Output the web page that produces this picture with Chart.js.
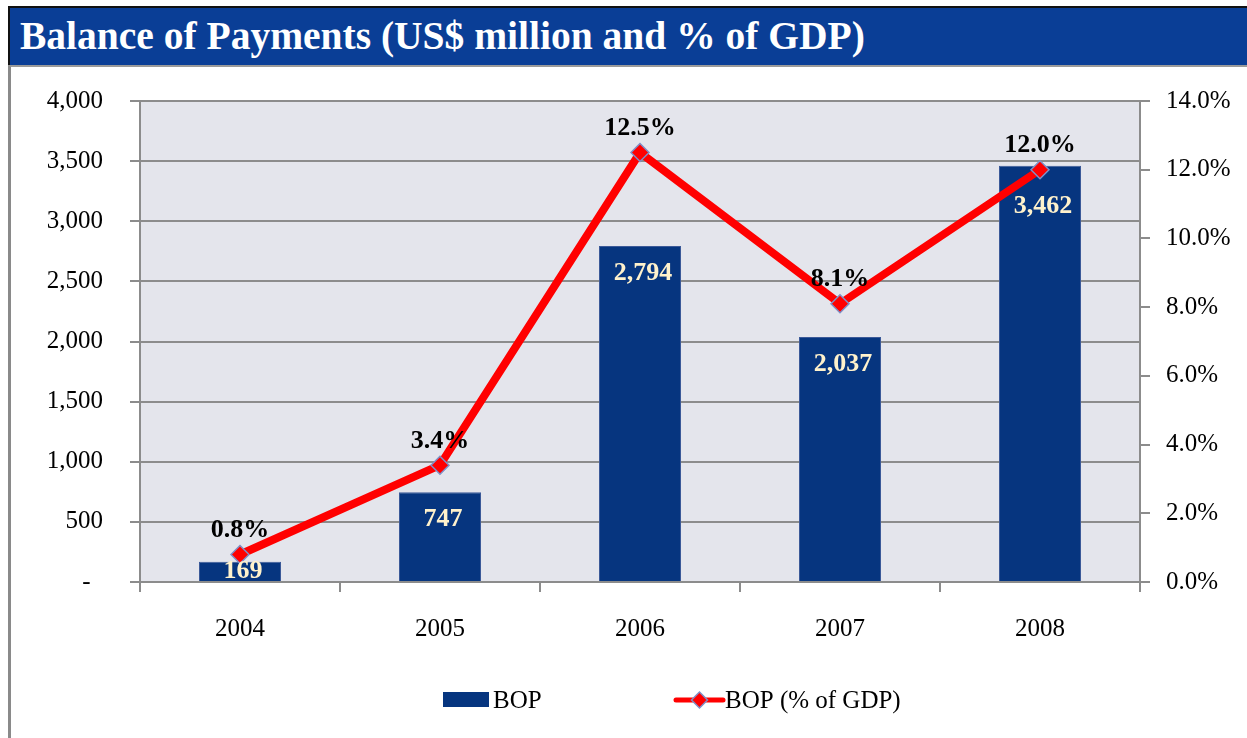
<!DOCTYPE html>
<html>
<head>
<meta charset="utf-8">
<script src="https://cdn.jsdelivr.net/npm/chart.js@4.4.0/dist/chart.umd.min.js"></script>
<style>
    body { margin: 0; background: #ffffff; width: 1247px; height: 738px; overflow: hidden; position: relative; }
    #banner {
        position: absolute; left: 8px; top: 6px; width: 1245px; height: 57px;
        background: #0a3e96; border: 2px solid #111111; box-sizing: content-box;
        color: #ffffff; font-family: "Liberation Serif", serif; font-weight: bold; font-size: 39.5px;
        line-height: 57px; padding-left: 10px;
    }
    #panel {
        position: absolute; left: 8px; top: 65px; width: 1245px; height: 680px;
        border-left: 3px solid #8a8a8a; border-top: 2px solid #9a9a9a;
    }
    #bopChart { position: absolute; left: 11px; top: 59px; }
</style>
</head>
<body>
<div id="banner">Balance of Payments (US$ million and % of GDP)</div>
<div id="panel"></div>
<canvas id="bopChart" width="1236" height="679"></canvas>
<script>
const years = ['2004', '2005', '2006', '2007', '2008'];
const bopValues = [169, 747, 2794, 2037, 3462];
const bopGdpShare = [0.8, 3.4, 12.5, 8.1, 12.0];

const barColor = '#06357f';
const lineColor = '#ff0000';
const gridColor = '#8c8c8c';
const fontFamily = '"Liberation Serif", serif';

// Light grey fill behind the plot area
const plotBackground = {
    id: 'plotBackground',
    beforeDraw(chart) {
        const { ctx, chartArea } = chart;
        ctx.save();
        ctx.fillStyle = '#e4e5ec';
        ctx.fillRect(chartArea.left, chartArea.top, chartArea.right - chartArea.left, chartArea.bottom - chartArea.top);
        ctx.restore();
    }
};

// Value labels: amounts inside the bars, percentages above the line points
const valueLabels = {
    id: 'valueLabels',
    afterDatasetsDraw(chart) {
        const ctx = chart.ctx;
        const bars = chart.getDatasetMeta(0).data;
        const points = chart.getDatasetMeta(1).data;
        ctx.save();
        ctx.textAlign = 'center';
        ctx.textBaseline = 'middle';
        ctx.font = 'bold 26px ' + fontFamily;

        bars.forEach((bar, i) => {
            let y = bar.y + 27;
            // push the label below the marker when the point sits on the bar
            if (points[i].y > bar.y) y = points[i].y + 37;
            y = Math.min(y, bar.base - 10);
            ctx.fillStyle = '#fff2cc';
            ctx.fillText(bopValues[i].toLocaleString('en-US'), bar.x + 3, y);
        });

        points.forEach((pt, i) => {
            ctx.fillStyle = '#000000';
            ctx.fillText(bopGdpShare[i].toFixed(1) + '%', pt.x, pt.y - 24);
        });
        ctx.restore();
    }
};

// Legend under the axis
const bottomLegend = {
    id: 'bottomLegend',
    afterDraw(chart) {
        const { ctx, chartArea } = chart;
        const cx = (chartArea.left + chartArea.right) / 2;
        const y = chartArea.bottom + 118;
        let x = cx - 197;
        ctx.save();
        ctx.font = '25px ' + fontFamily;
        ctx.textBaseline = 'middle';
        ctx.fillStyle = barColor;
        ctx.fillRect(x, y - 8, 46, 15);
        ctx.fillStyle = '#000000';
        ctx.fillText('BOP', x + 50, y + 1);

        x += 233;
        ctx.strokeStyle = lineColor;
        ctx.lineWidth = 5;
        ctx.lineCap = 'round';
        ctx.beginPath();
        ctx.moveTo(x, y);
        ctx.lineTo(x + 47, y);
        ctx.stroke();
        ctx.beginPath();
        ctx.moveTo(x + 23.5 - 8, y);
        ctx.lineTo(x + 23.5, y - 8);
        ctx.lineTo(x + 23.5 + 8, y);
        ctx.lineTo(x + 23.5, y + 8);
        ctx.closePath();
        ctx.fillStyle = lineColor;
        ctx.fill();
        ctx.lineWidth = 1.5;
        ctx.strokeStyle = '#7f8fc6';
        ctx.stroke();
        ctx.fillStyle = '#000000';
        ctx.fillText('BOP (% of GDP)', x + 49, y + 1);
        ctx.restore();
    }
};

const bopCtx = document.getElementById('bopChart').getContext('2d');

const bopChart = new Chart(bopCtx, {
    type: 'bar',
    data: {
        labels: years,
        datasets: [{
            label: 'BOP',
            data: bopValues,
            yAxisID: 'y',
            backgroundColor: barColor,
            borderColor: '#3b5998',
            borderWidth: 1,
            barPercentage: 0.41,
            categoryPercentage: 1.0,
            order: 2
        }, {
            type: 'line',
            label: 'BOP (% of GDP)',
            data: bopGdpShare,
            yAxisID: 'y1',
            borderColor: lineColor,
            borderWidth: 8,
            tension: 0,
            pointStyle: 'rectRot',
            pointRadius: 9,
            pointBackgroundColor: lineColor,
            pointBorderColor: '#7f8fc6',
            pointBorderWidth: 1.5,
            order: 1
        }]
    },
    options: {
        responsive: false,
        animation: false,
        layout: {
            padding: { top: 27, left: 0, right: 0, bottom: 0 }
        },
        scales: {
            x: {
                offset: true,
                afterFit: (scale) => { scale.height = 156; },
                grid: {
                    offset: true,
                    drawOnChartArea: false,
                    tickLength: 10,
                    color: gridColor,
                    lineWidth: 2
                },
                border: { color: gridColor, width: 2 },
                ticks: {
                    color: '#000000',
                    padding: 22,
                    font: { family: fontFamily, size: 25 }
                }
            },
            y: {
                position: 'left',
                min: 0,
                max: 4000,
                afterFit: (scale) => { scale.width = 129; },
                grid: {
                    color: gridColor,
                    lineWidth: 2,
                    tickLength: 10
                },
                border: { color: gridColor, width: 2 },
                ticks: {
                    stepSize: 500,
                    color: '#000000',
                    padding: 27,
                    font: { family: fontFamily, size: 25 },
                    callback: function (value) {
                        return value === 0 ? '-  ' : value.toLocaleString('en-US');
                    }
                }
            },
            y1: {
                position: 'right',
                min: 0,
                max: 14,
                afterFit: (scale) => { scale.width = 107; },
                grid: {
                    drawOnChartArea: false,
                    color: gridColor,
                    lineWidth: 2,
                    tickLength: 10
                },
                border: { color: gridColor, width: 2 },
                ticks: {
                    stepSize: 2,
                    color: '#000000',
                    padding: 16,
                    font: { family: fontFamily, size: 25 },
                    callback: function (value) {
                        return value.toFixed(1) + '%';
                    }
                }
            }
        },
        plugins: {
            legend: { display: false },
            tooltip: { enabled: false }
        }
    },
    plugins: [plotBackground, valueLabels, bottomLegend]
});
</script>
</body>
</html>
